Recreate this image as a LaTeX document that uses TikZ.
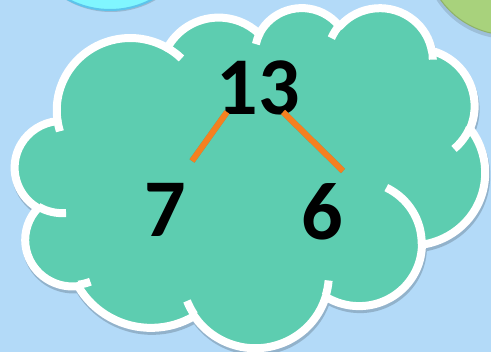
\documentclass[tikz,border=0pt]{standalone}
\usepackage{fontspec}
\setmainfont{Carlito}
\definecolor{skyblue}{RGB}{179,218,248}
\definecolor{cloudgreen}{RGB}{93,205,176}
\definecolor{lineorange}{RGB}{245,128,32}
\definecolor{ballcyan}{RGB}{128,246,255}
\definecolor{ballrim}{RGB}{92,196,236}
\definecolor{ballgreen}{RGB}{168,210,124}

\tikzset{
  declare function={
    vang(\p,\u,\v)=atan2(\u*sin(\p),\v*cos(\p));
    dang(\p,\q,\u,\v)=(vang(\p+\q,\u,\v)-vang(\p,\u,\v))-360*round((vang(\p+\q,\u,\v)-vang(\p,\u,\v)-\q)/360);
  },
  num/.style={font=\fontsize{82}{82}\selectfont\bfseries, inner sep=0pt},
  branch/.style={lineorange, line width=6pt},
  branchshadow/.style={black, opacity=.22, line width=6pt},
}

% cloud outline (lobes as elliptic arcs)
\newcommand\cloudshape{(39.00,-143.70)
  \foreach \cw/\ch/\ca/\cd in {67.53/91.90/-190.4875/123.7805, 53.33/72.67/-144.1024/89.9452,
      43.65/59.45/-145.8079/99.7230, 48.57/65.95/-130.9861/117.2417,
      53.33/72.73/-78.7089/109.0269, 67.75/92.20/-46.2673/130.2690,
      57.85/78.67/0.6250/114.0333, 67.52/92.15/22.4516/115.1726,
      77.20/105.43/66.2426/75.7110, 43.60/59.18/-274.9421/146.7356,
      43.45/59.45/-246.8285/152.5189}
    { arc[start angle={-vang(\ca,\cw,\ch)}, delta angle={-dang(\ca,\cd,\cw,\ch)}, x radius=\cw, y radius=\ch] }
  -- cycle}
% short inner arcs
\newcommand\cloudtails{
  \foreach \px/\py/\cw/\ch/\ca/\cd in {46.93/261.77/43.45/59.45/86.7420/26.4295,
      69.28/348.99/43.60/59.18/73.6105/11.4475, 164.78/390.90/67.52/92.15/137.6242/14.0811,
      288.27/347.51/67.52/92.15/6.4533/15.9984, 341.29/229.54/57.85/78.67/-70.2924/70.9174,
      417.98/153.54/53.33/72.73/30.3180/27.7515, 383.24/54.26/48.57/65.95/-13.7443/14.8589,
      290.78/39.52/48.57/65.95/-149.1815/18.1954, 221.41/47.20/43.65/59.45/-163.4943/17.6864,
      140.00/51.92/67.53/91.90/-66.7070/12.3194, 41.27/157.89/67.53/91.90/157.6544/11.8582}
    { (\px,-\py) arc[start angle={-vang(\ca,\cw,\ch)}, delta angle={-dang(\ca,\cd,\cw,\ch)}, x radius=\cw, y radius=\ch] }}

\begin{document}
\begin{tikzpicture}[x=1pt, y=1pt, line join=round]
  \useasboundingbox (0,0) rectangle (491,-352);
  \fill[skyblue] (0,0) rectangle (491,-352);
  % Balls at the top
  \fill[black, opacity=.15] (111,77) circle (89);
  \filldraw[fill=ballcyan, draw=ballrim, line width=2pt] (110,79) circle (89);
  \fill[black, opacity=.12] (508,46) circle (85);
  \filldraw[fill=ballgreen, draw=ballgreen!85!black, line width=1pt] (509,49) circle (84);
  % Cloud
  \begin{scope}[shift={(16,-10)}, xscale=470/432, yscale=340/432]
    \draw[black, opacity=.18, line width=8pt] \cloudshape;
  \end{scope}
  \begin{scope}[shift={(15,-7)}, xscale=470/432, yscale=340/432]
    \filldraw[fill=cloudgreen, draw=white, line width=8pt] \cloudshape;
    \draw[white, line width=8pt] \cloudtails;
  \end{scope}
  % Numbers
  \node[num] (n13) at (258,-88) {13};
  \node[num] (n7) at (165,-210) {7};
  \node[num] (n6) at (322,-212) {6};
  % Branches
  \coordinate (bl) at (227,-112);
  \coordinate (el) at (192,-161);
  \coordinate (br) at (283,-112);
  \coordinate (er) at (343,-171);
  \begin{scope}[shift={(1.5,-2.5)}]
    \draw[branchshadow] (bl) -- (el);
    \draw[branchshadow] (br) -- (er);
  \end{scope}
  \draw[branch] (bl) -- (el);
  \draw[branch] (br) -- (er);
\end{tikzpicture}
\end{document}
